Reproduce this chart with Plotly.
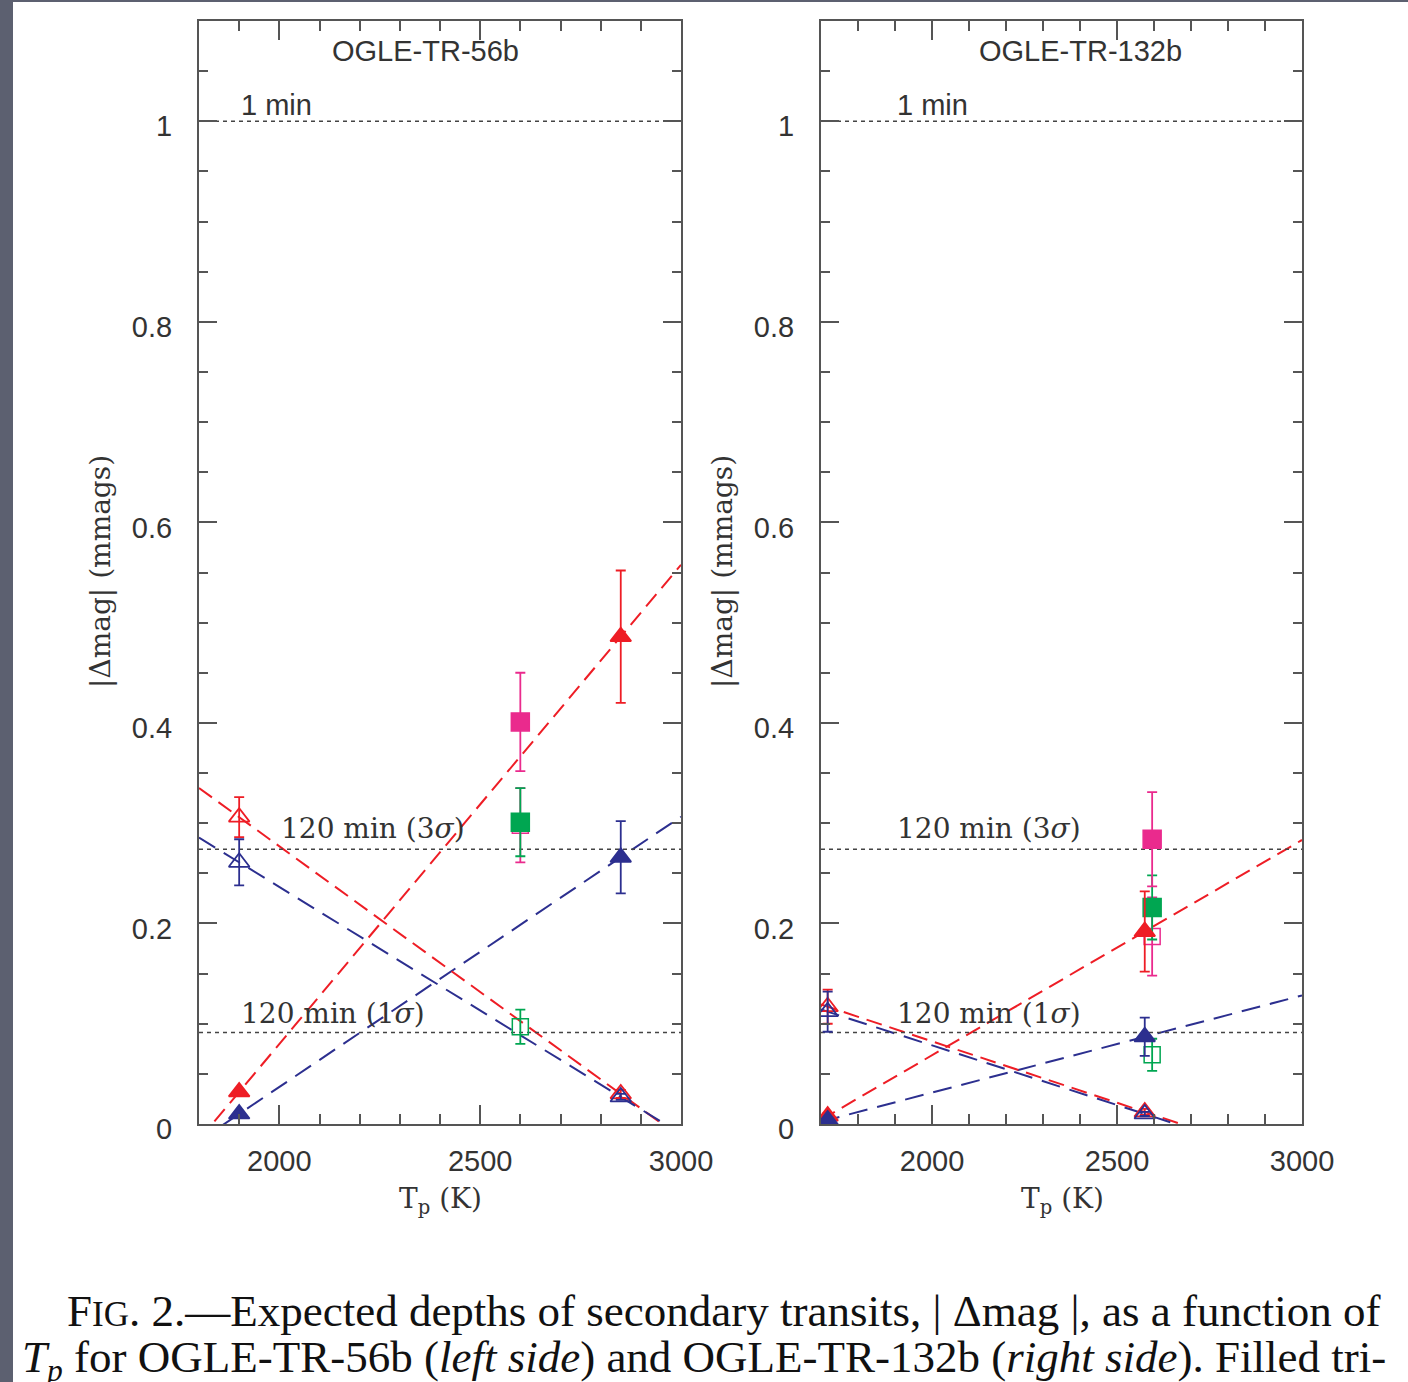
import plotly.graph_objects as go

W, H = 1408, 1382

# ---------------- data ----------------
# OGLE-TR-56b (left panel)
L_tri_x = [1900, 2850]
L_red_fill_y = [0.032, 0.486]
L_red_fill_e = [0.0, 0.066]
L_blue_fill_y = [0.010, 0.266]
L_blue_fill_e = [0.0, 0.036]
L_red_open_y = [0.306, 0.030]
L_red_open_e = [0.020, 0.004]
L_blue_open_y = [0.261, 0.027]
L_blue_open_e = [0.023, 0.003]
L_sq_x = [2600]
L_mag_fill_y = [0.401]
L_mag_fill_e = [0.049]
L_mag_open_y = [0.298]
L_mag_open_e = [0.037]
L_grn_fill_y = [0.301]
L_grn_fill_e = [0.034]
L_grn_open_y = [0.097]
L_grn_open_e = [0.017]

# OGLE-TR-132b (right panel)
R_tri_x = [1718, 2575]
R_red_fill_y = [0.008, 0.192]
R_red_fill_e = [0.003, 0.040]
R_blue_fill_y = [0.004, 0.087]
R_blue_fill_e = [0.0, 0.019]
R_red_open_y = [0.117, 0.012]
R_red_open_e = [0.017, 0.003]
R_blue_open_y = [0.112, 0.010]
R_blue_open_e = [0.020, 0.002]
R_sq_x = [2595]
R_mag_fill_y = [0.284]
R_mag_fill_e = [0.047]
R_mag_open_y = [0.187]
R_mag_open_e = [0.039]
R_grn_fill_y = [0.216]
R_grn_fill_e = [0.032]
R_grn_open_y = [0.069]
R_grn_open_e = [0.016]

hline_vals = [1.0, 0.274, 0.0913]
hline_labels = ["1 min", "120 min (3<i>\u03c3</i>)", "120 min (1<i>\u03c3</i>)"]
L_label_x = [1900, 2000, 1900]
R_label_x = [1900, 1900, 1900]

x_ticks = [2000, 2500, 3000]
x_ticktext = ["2000", "2500", "3000"]
y_ticks = [0, 0.2, 0.4, 0.6, 0.8, 1.0]
y_ticktext = ["0", "0.2", "0.4", "0.6", "0.8", "1"]

L_range = [1800, 3000]
R_range = [1700, 3000]
Y_range = [0, 1.1]

titles = ["OGLE-TR-56b", "OGLE-TR-132b"]
title_x = [2365, 2402]

# ---------------- styles ----------------
RED = "#ee1d25"
BLUE = "#2c2f8f"
MAG = "#ea2a8d"
GRN = "#00a651"
AX = "#555555"
TXT = "#333333"

fig = go.Figure()


def line_through(xs, ys, rng):
    m = (ys[1] - ys[0]) / (xs[1] - xs[0])
    return [rng[0], rng[1]], [ys[0] + m * (rng[0] - xs[0]), ys[0] + m * (rng[1] - xs[0])]


def add_panel(xa, ya, rng, tri_x, sets, sq_x, sqsets, lab_x):
    # fit lines
    for ys, col, dash in [(sets[0][0], RED, "16px,8px"), (sets[1][0], BLUE, "19px,10px"),
                          (sets[2][0], RED, "16px,8px"), (sets[3][0], BLUE, "19px,10px")]:
        lx, ly = line_through(tri_x, ys, rng)
        fig.add_trace(go.Scatter(x=lx, y=ly, mode="lines", xaxis=xa, yaxis=ya,
                                 line=dict(color=col, width=2, dash=dash),
                                 hoverinfo="skip", showlegend=False))
    # horizontal dotted lines
    for v in hline_vals:
        fig.add_trace(go.Scatter(x=rng, y=[v, v], mode="lines", xaxis=xa, yaxis=ya,
                                 line=dict(color="#444444", width=1.5, dash="4px,4px"),
                                 hoverinfo="skip", showlegend=False))
    # squares
    for ys, es, col, sym in sqsets:
        fig.add_trace(go.Scatter(
            x=sq_x, y=ys, mode="markers", xaxis=xa, yaxis=ya, showlegend=False,
            marker=dict(symbol=sym, size=16 if "open" in sym else 18, color=col,
                        line=dict(color=col, width=1.5)),
            error_y=dict(type="data", array=es, color=col, thickness=1.8, width=5)))
    # triangles
    for ys, es, col, sym in [(sets[2][0], sets[2][1], RED, "triangle-up-open"),
                             (sets[3][0], sets[3][1], BLUE, "triangle-up-open"),
                             (sets[0][0], sets[0][1], RED, "triangle-up"),
                             (sets[1][0], sets[1][1], BLUE, "triangle-up")]:
        fig.add_trace(go.Scatter(
            x=tri_x, y=ys, mode="markers", xaxis=xa, yaxis=ya, showlegend=False,
            marker=dict(symbol=sym, size=18, color=col, line=dict(color=col, width=1.8)),
            error_y=dict(type="data", array=es, color=col, thickness=1.8, width=5)))
    # line labels
    for v, t, lx in zip(hline_vals, hline_labels, lab_x):
        if t == "1 min":
            fnt = dict(family="Liberation Sans, Arial", size=29, color=TXT)
            yy = 1.016
        else:
            fnt = dict(family="DejaVu Serif, serif", size=28, color=TXT)
            yy = v + 0.021 if v > 0.2 else v + 0.019
        fig.add_annotation(x=lx, y=yy, xref=xa, yref=ya, text=t, showarrow=False,
                           xanchor="left", yanchor="middle", font=fnt)


add_panel("x", "y", L_range, L_tri_x,
          [(L_red_fill_y, L_red_fill_e), (L_blue_fill_y, L_blue_fill_e),
           (L_red_open_y, L_red_open_e), (L_blue_open_y, L_blue_open_e)],
          L_sq_x,
          [(L_mag_open_y, L_mag_open_e, MAG, "square-open"),
           (L_grn_open_y, L_grn_open_e, GRN, "square-open"),
           (L_grn_fill_y, L_grn_fill_e, GRN, "square"),
           (L_mag_fill_y, L_mag_fill_e, MAG, "square")],
          L_label_x)
add_panel("x2", "y2", R_range, R_tri_x,
          [(R_red_fill_y, R_red_fill_e), (R_blue_fill_y, R_blue_fill_e),
           (R_red_open_y, R_red_open_e), (R_blue_open_y, R_blue_open_e)],
          R_sq_x,
          [(R_mag_open_y, R_mag_open_e, MAG, "square-open"),
           (R_grn_open_y, R_grn_open_e, GRN, "square-open"),
           (R_grn_fill_y, R_grn_fill_e, GRN, "square"),
           (R_mag_fill_y, R_mag_fill_e, MAG, "square")],
          R_label_x)

# panel titles
for t, tx, xa, ya in zip(titles, title_x, ["x", "x2"], ["y", "y2"]):
    fig.add_annotation(x=tx, y=1.07, xref=xa, yref=ya, text=t, showarrow=False,
                       xanchor="center", yanchor="middle",
                       font=dict(family="Liberation Sans, Arial", size=29, color=TXT))

tickfont = dict(family="Liberation Sans, Arial", size=29, color=TXT)


def xaxis_cfg(rng, dom):
    return dict(domain=dom, range=rng, tickmode="array", tickvals=x_ticks, ticktext=x_ticktext,
                ticks="inside", ticklen=19, tickwidth=2, tickcolor=AX,
                minor=dict(ticks="inside", ticklen=10, tickwidth=1.5, tickcolor=AX, dtick=100, tick0=0),
                showline=True, linecolor=AX, linewidth=2, mirror="allticks",
                showgrid=False, zeroline=False, tickfont=tickfont, ticklabelstandoff=10,
                automargin=False)


def yaxis_cfg(anchor):
    return dict(domain=[1 - 1124 / H, 1 - 21 / H], range=Y_range, anchor=anchor,
                tickmode="array", tickvals=y_ticks, ticktext=y_ticktext,
                ticks="inside", ticklen=18, tickwidth=2, tickcolor=AX,
                minor=dict(ticks="inside", ticklen=9, tickwidth=1.5, tickcolor=AX, dtick=0.05, tick0=0),
                showline=True, linecolor=AX, linewidth=2, mirror="allticks",
                showgrid=False, zeroline=False, tickfont=tickfont, ticklabelstandoff=19,
                ticklabelshift=5, automargin=False)


fig.update_layout(
    width=W, height=H,
    margin=dict(l=0, r=0, t=0, b=0),
    paper_bgcolor="white", plot_bgcolor="white",
    showlegend=False,
    xaxis=dict(xaxis_cfg(L_range, [199 / W, 681 / W]), anchor="y"),
    yaxis=yaxis_cfg("x"),
    xaxis2=dict(xaxis_cfg(R_range, [821 / W, 1302 / W]), anchor="y2"),
    yaxis2=yaxis_cfg("x2"),
)

# axis titles
serif = "DejaVu Serif, serif"
for cx in [100, 722]:
    fig.add_annotation(x=cx / W, y=1 - 572 / H, xref="paper", yref="paper",
                       text="|\u0394mag| (mmags)", textangle=-90, showarrow=False,
                       xanchor="center", yanchor="middle",
                       font=dict(family=serif, size=28, color=TXT))
for cx in [440, 1062]:
    fig.add_annotation(x=cx / W, y=1 - 1200 / H, xref="paper", yref="paper",
                       text="T<sub>p</sub> (K)", showarrow=False,
                       xanchor="center", yanchor="middle",
                       font=dict(family=serif, size=28, color=TXT))

# caption
cap_font = dict(family="Liberation Serif, Times New Roman, serif", size=45, color="#111111")
fig.add_annotation(x=65 / W, y=1 - 1311 / H, xref="paper", yref="paper", showarrow=False,
                   xanchor="left", yanchor="middle", font=cap_font,
                   text="F<span style='font-size:35px'>IG</span>. 2.\u2014Expected depths of secondary transits, | \u0394mag |, as a function of")
fig.add_annotation(x=20 / W, y=1 - 1360 / H, xref="paper", yref="paper", showarrow=False,
                   xanchor="left", yanchor="middle", font=cap_font,
                   text="<i>T<sub>p</sub></i> for OGLE-TR-56b (<i>left side</i>) and OGLE-TR-132b (<i>right side</i>). Filled tri-")

# slide border (left and top)
fig.add_shape(type="rect", xref="paper", yref="paper", x0=0, x1=13 / W, y0=0, y1=1,
              fillcolor="#5c6070", line=dict(width=0), layer="above")
fig.add_shape(type="rect", xref="paper", yref="paper", x0=0, x1=1, y0=1 - 2 / H, y1=1,
              fillcolor="#5c6070", line=dict(width=0), layer="above")

fig.write_html("out.html")
